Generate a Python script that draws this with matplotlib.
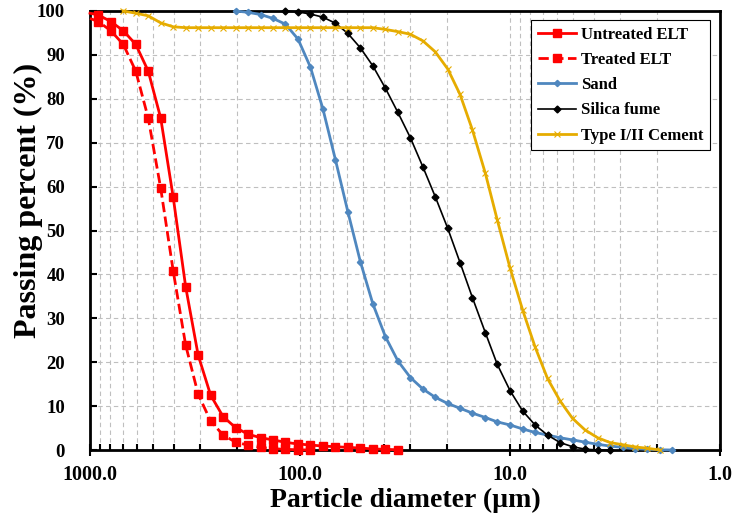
import matplotlib
matplotlib.use("Agg")
import matplotlib.pyplot as plt
from matplotlib.ticker import LogLocator, FixedLocator, NullFormatter

plt.rcParams["font.family"] = ["Liberation Serif", "DejaVu Serif"]
plt.rcParams["font.weight"] = "bold"

# particle size bins (µm)
diam = [912.8, 796.1, 694.3, 605.6, 528.1, 460.6, 401.7, 350.4, 305.5, 266.5,
        232.4, 202.7, 176.8, 154.1, 134.4, 117.3, 102.2, 89.2, 77.8, 67.8,
        59.2, 51.6, 45.0, 39.2, 34.2, 29.8, 26.0, 22.7, 19.8, 17.3,
        15.1, 13.1, 11.5, 9.99, 8.71, 7.60, 6.63, 5.78, 5.04, 4.40,
        3.83, 3.34, 2.91, 2.54, 2.22, 1.93, 1.69]

# ELT curves start at the left edge of the axis (1000 µm)
untreated_d = [1000.0] + diam[0:25]
untreated = [99.5, 99.1, 97.6, 95.5, 92.4, 86.3, 75.6, 57.6, 37.2, 21.6, 12.5,
             7.6, 5.1, 3.6, 2.8, 2.3, 1.75, 1.37, 1.14, 0.9, 0.75,
             0.6, 0.45, 0.25, 0.15, 0.05]
treated_d = [1000.0] + diam[0:18]
treated = [98.3, 97.6, 95.5, 92.4, 86.3, 75.6, 59.6, 40.8, 23.9, 12.7, 6.6,
           3.4, 1.8, 1.1, 0.6, 0.3, 0.15, 0.05, 0.0]
sand_d = diam[11:47]
sand = [100.0, 99.7, 99.2, 98.3, 97.0, 93.6, 87.2, 77.7, 66.1, 54.3,
        42.9, 33.3, 25.8, 20.3, 16.5, 13.9, 12.0, 10.6, 9.5, 8.4,
        7.4, 6.4, 5.7, 4.8, 4.0, 3.4, 2.8, 2.3, 1.8, 1.3,
        0.9, 0.6, 0.3, 0.15, 0.05, 0.0]
silica_d = diam[15:42]
silica = [100.0, 99.8, 99.3, 98.6, 97.2, 94.9, 91.6, 87.5, 82.4, 76.9,
          71.1, 64.5, 57.7, 50.5, 42.7, 34.7, 26.7, 19.5, 13.5, 8.9,
          5.7, 3.4, 1.7, 0.75, 0.2, 0.0, 0.0]
cement_d = diam[2:46]
cement = [100.0, 99.5, 98.9, 97.3, 96.4, 96.2, 96.2, 96.2, 96.2, 96.2,
          96.2, 96.2, 96.2, 96.2, 96.2, 96.2, 96.2, 96.2, 96.2, 96.2,
          96.2, 95.8, 95.3, 94.7, 93.2, 90.7, 86.8, 81.0, 72.9, 63.0,
          52.4, 41.4, 31.9, 23.5, 16.3, 11.2, 7.2, 4.6, 2.8, 1.7,
          1.2, 0.7, 0.4, 0.0]

fig = plt.figure(figsize=(7.33, 5.14), dpi=100)
ax = fig.add_axes([0.1228, 0.1245, 0.8595, 0.8541])

ax.plot(untreated_d, untreated, "-s", color="#FF0000", lw=2, ms=5.5,
        markevery=slice(1, None), clip_on=False, zorder=4, label="Untreated ELT")
ax.plot(treated_d, treated, "--s", color="#FF0000", lw=2, ms=5.5,
        markevery=slice(1, None), clip_on=False, zorder=4, label="Treated ELT")
ax.plot(sand_d, sand, "-D", color="#4F87BF", lw=2, ms=3.2,
        clip_on=False, zorder=3, label="Sand")
ax.plot(silica_d, silica, "-D", color="black", lw=1.2, ms=3.5,
        clip_on=False, zorder=3, label="Silica fume")
ax.plot(cement_d, cement, "-x", color="#E6AC00", lw=2, ms=5, mew=0.8,
        clip_on=False, zorder=3, label="Type I/II Cement")

ax.set_xscale("log")
ax.set_xlim(1000, 1)
ax.set_ylim(0, 100)
ax.xaxis.set_major_locator(FixedLocator([1000, 100, 10, 1]))
ax.xaxis.set_minor_locator(LogLocator(base=10, subs=range(2, 10)))
ax.xaxis.set_minor_formatter(NullFormatter())
ax.set_xticklabels(["1000.0", "100.0", "10.0", "1.0"])
ax.set_yticks(range(0, 101, 10))

ax.tick_params(axis="x", which="major", direction="inout", length=9, width=1.5,
               labelsize=14.5, pad=6)
ax.tick_params(axis="x", which="minor", direction="in", length=4, width=1.5)
ax.tick_params(axis="y", which="major", direction="in", length=5, width=1.5,
               labelsize=13.5, pad=18)
for lab in ax.get_xticklabels() + ax.get_yticklabels():
    lab.set_fontweight("bold")

ax.grid(which="major", color="#BFBFBF", ls=(0, (4, 3)), lw=0.8)
ax.grid(axis="x", which="minor", color="#BFBFBF", ls=(0, (4, 3)), lw=0.8)
ax.set_axisbelow(True)
for s in ax.spines.values():
    s.set_linewidth(2)

ax.set_xlabel("Particle diameter (µm)", fontsize=20, fontweight="bold", labelpad=2)
ax.set_ylabel("Passing percent (%)", fontsize=23, fontweight="bold")
ax.yaxis.set_label_coords(-0.074, 0.569)

leg = ax.legend(loc="upper right", bbox_to_anchor=(0.984, 0.979), borderaxespad=0,
                prop={"weight": "bold", "size": 12}, fancybox=False,
                edgecolor="black", framealpha=1, handlelength=2.3,
                handletextpad=0.3, labelspacing=0.55, borderpad=0.4)
leg.get_frame().set_linewidth(0.8)

fig.savefig("out.png", dpi=100)
